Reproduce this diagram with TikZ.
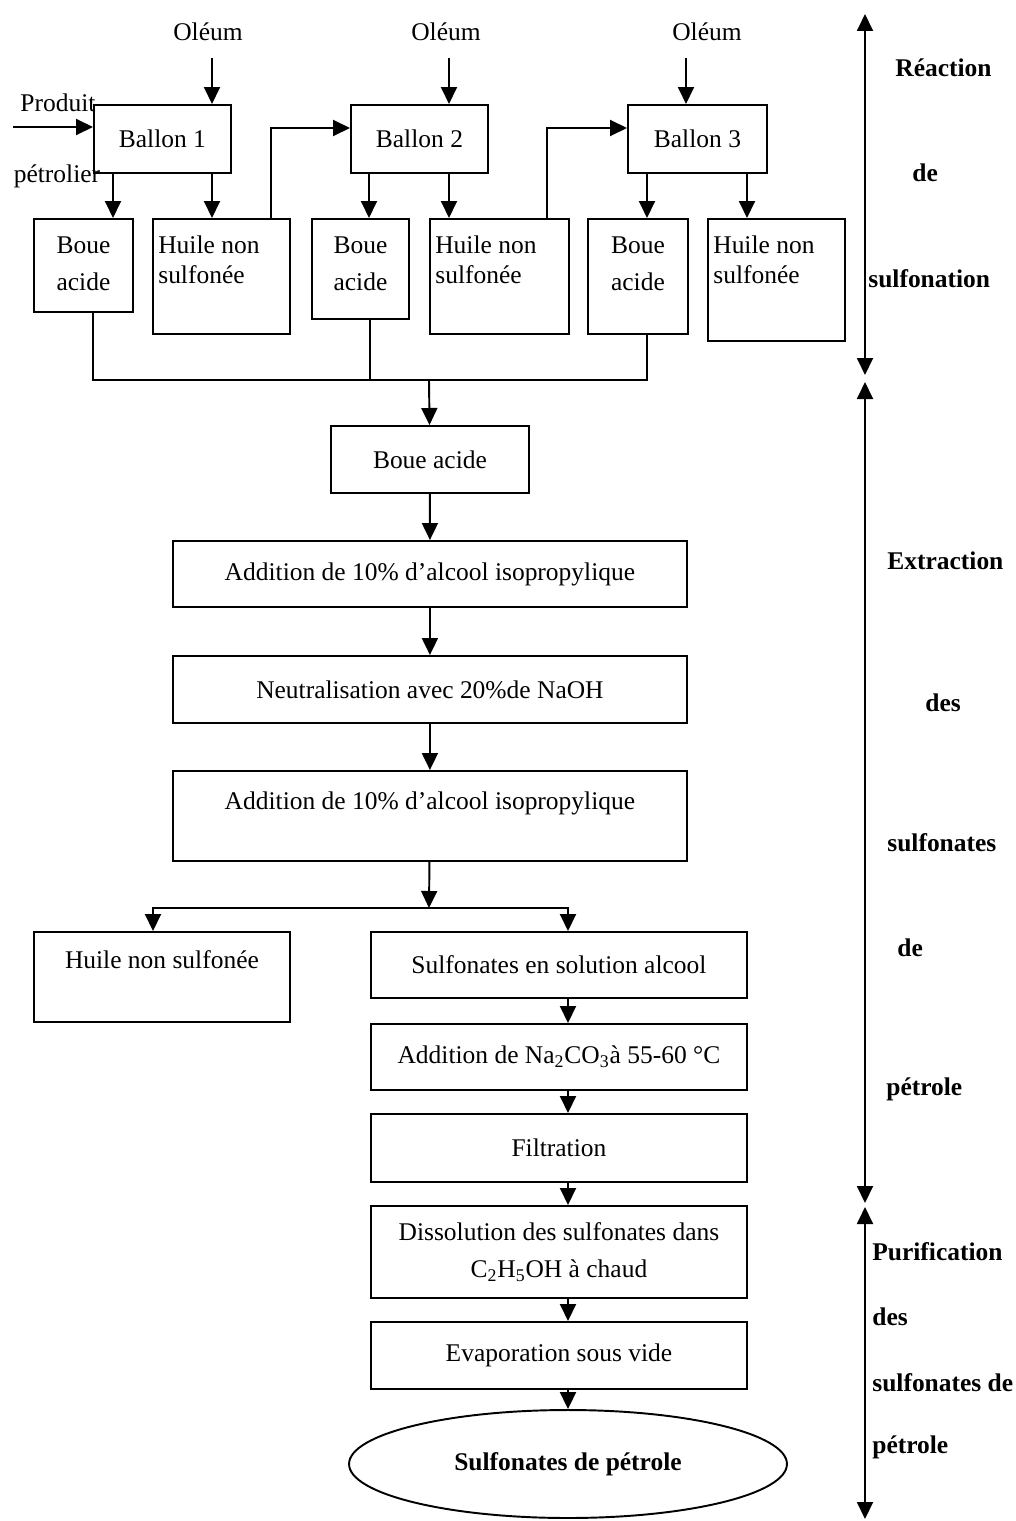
\documentclass[tikz,border=0pt]{standalone}
\usepackage{fontspec}
\setmainfont{Liberation Serif}
\usetikzlibrary{arrows.meta,shapes.geometric,positioning}
\newcommand{\figfont}{\fontsize{14.5}{17.5}\selectfont}
\tikzset{box/.style={draw,line width=1.1pt,anchor=north west,inner sep=2pt,align=center},
  lbl/.style={inner sep=0pt,align=center},
  arr/.style={-{Triangle[length=0.34cm,width=0.32cm]},line width=1.1pt},
  ln/.style={line width=1.1pt},
  span/.style={{Triangle[length=0.34cm,width=0.32cm]}-{Triangle[length=0.34cm,width=0.32cm]},line width=1.1pt},
  side/.style={font=\figfont\bfseries,inner sep=0pt,anchor=west}}

\begin{document}
\begin{tikzpicture}[x=0.02cm,y=-0.02cm,font=\figfont]
\useasboundingbox (0,0) rectangle (1016,1521);

% sulfonation in three flasks
\node[box,minimum width=2.74cm,minimum height=1.36cm] (b1) at (93,104) {Ballon 1};
\node[box,minimum width=2.74cm,minimum height=1.36cm] (b2) at (350,104) {Ballon 2};
\node[box,minimum width=2.78cm,minimum height=1.36cm] (b3) at (627,104) {Ballon 3};
\node (ol1) at (208,32) {Oléum};
\node (ol2) at (446,32) {Oléum};
\node (ol3) at (707,32) {Oléum};
\node[inner sep=0pt] (prod) at (58,103) {Produit};
\node[inner sep=0pt] (petr) at (57,176) {pétrolier};

\node[box,minimum width=1.98cm,minimum height=1.86cm,
  label={[lbl,name=tbo1,anchor=north,yshift=-0.36cm]north:Boue\\[4pt]acide}] (bo1) at (33,218) {};
\node[box,minimum width=2.74cm,minimum height=2.3cm,
  label={[lbl,name=thu1,anchor=north west,align=left,xshift=0.12cm,yshift=-0.34cm]north west:Huile non\\sulfonée}] (hu1) at (152,218) {};
\node[box,minimum width=1.94cm,minimum height=2.0cm,
  label={[lbl,name=tbo2,anchor=north,yshift=-0.36cm]north:Boue\\[4pt]acide}] (bo2) at (311,218) {};
\node[box,minimum width=2.78cm,minimum height=2.3cm,
  label={[lbl,name=thu2,anchor=north west,align=left,xshift=0.12cm,yshift=-0.34cm]north west:Huile non\\sulfonée}] (hu2) at (429,218) {};
\node[box,minimum width=2.0cm,minimum height=2.3cm,
  label={[lbl,name=tbo3,anchor=north,yshift=-0.36cm]north:Boue\\[4pt]acide}] (bo3) at (587,218) {};
\node[box,minimum width=2.74cm,minimum height=2.44cm,
  label={[lbl,name=thu3,anchor=north west,align=left,xshift=0.12cm,yshift=-0.34cm]north west:Huile non\\sulfonée}] (hu3) at (707,218) {};

\coordinate (f1) at (212,58);
\coordinate (f2) at (449,58);
\coordinate (f3) at (686,58);
\draw[arr] (f1) -- (f1 |- b1.north);
\draw[arr] (f2) -- (f2 |- b2.north);
\draw[arr] (f3) -- (f3 |- b3.north);
\coordinate (pin) at (13,127);
\draw[arr] (pin) -- (pin -| b1.west);

\draw[arr] (b1.south -| 113,0) -- (bo1.north -| 113,0);
\draw[arr] (b1.south -| 212,0) -- (hu1.north -| 212,0);
\draw[arr] (b2.south -| 369,0) -- (bo2.north -| 369,0);
\draw[arr] (b2.south -| 449,0) -- (hu2.north -| 449,0);
\draw[arr] (b3.south -| 647,0) -- (bo3.north -| 647,0);
\draw[arr] (b3.south -| 747,0) -- (hu3.north -| 747,0);
% unreacted oil goes on to the next flask
\draw[arr] (hu1.north -| 271,0) |- (b2.west |- 0,128);
\draw[arr] (hu2.north -| 547,0) |- (b3.west |- 0,128);

% acid sludge collected
\coordinate (colL) at (93,380);
\coordinate (colR) at (647,380);
\coordinate (col) at (429,380);
\draw[ln] (bo1.south -| colL) -- (colL) -- (colR) -- (bo3.south -| colR);
\draw[ln] (bo2.south -| 370,0) |- (col);

% extraction
\node[box,minimum width=3.96cm,minimum height=1.34cm] (ba) at (330,425) {Boue acide};
\node[box,minimum width=10.28cm,minimum height=1.32cm] (ad1) at (172,540) {Addition de 10\% d’alcool isopropylique};
\node[box,minimum width=10.28cm,minimum height=1.34cm] (neu) at (172,655) {Neutralisation avec 20\%de NaOH};
\node[box,minimum width=10.28cm,minimum height=1.8cm,
  label={[lbl,name=tad2,anchor=north,yshift=-0.42cm]north:Addition de 10\% d’alcool isopropylique}] (ad2) at (172,770) {};
\draw[arr] (col) -- (ba);
\draw[arr] (ba) -- (ad1);
\draw[arr] (ad1) -- (neu);
\draw[arr] (neu) -- (ad2);

\node[box,minimum width=5.12cm,minimum height=1.8cm,
  label={[lbl,name=thub,anchor=north,yshift=-0.38cm]north:Huile non sulfonée}] (hub) at (33,931) {};
\node[box,minimum width=7.52cm,minimum height=1.32cm] (sol) at (370,931) {Sulfonates en solution alcool};
\node[box,minimum width=7.52cm,minimum height=1.32cm] (na) at (370,1023) {Addition de Na\textsubscript{2}CO\textsubscript{3}à 55-60 °C};
\node[box,minimum width=7.52cm,minimum height=1.36cm] (fil) at (370,1113) {Filtration};

\coordinate (split) at (429,908);
\draw[arr] (ad2) -- (split);
\draw[arr] (split) -| (hub.north -| 153,0);
\draw[arr] (split) -| (sol.north -| 568,0);

% purification
\node[box,minimum width=7.52cm,minimum height=1.84cm] (dis) at (370,1205) {Dissolution des sulfonates dans\\[3.5pt]C\textsubscript{2}H\textsubscript{5}OH à chaud};
\node[box,minimum width=7.52cm,minimum height=1.34cm] (eva) at (370,1321) {Evaporation sous vide};
\node[draw,ellipse,line width=1.1pt,minimum width=8.76cm,minimum height=2.16cm,font=\figfont\bfseries] (fin) at (568,1464) {Sulfonates de pétrole};

\foreach \a/\b in {sol/na,na/fil,fil/dis,dis/eva,eva/fin}
  \draw[arr] (\a.south -| 568,0) -- (\b.north -| 568,0);

% stages on the right
\coordinate (r1t) at (865,14);
\coordinate (r1b) at (865,375);
\coordinate (r2t) at (865,382);
\coordinate (r2b) at (865,1203);
\coordinate (r3t) at (865,1207);
\coordinate (r3b) at (865,1519);
\draw[span] (r1t) -- (r1b);
\draw[span] (r2t) -- (r2b);
\draw[span] (r3t) -- (r3b);

\node[side] (s1) at (895,68) {Réaction};
\node[side] (s2) at (912,173) {de};
\node[side] (s3) at (868,279) {sulfonation};
\node[side] (s4) at (887,561) {Extraction};
\node[side] (s5) at (925,703) {des};
\node[side] (s6) at (887,843) {sulfonates};
\node[side] (s7) at (897,948) {de};
\node[side] (s8) at (886,1089) {pétrole};
\node[side] (s9) at (872,1252) {Purification};
\node[side] (s10) at (872,1317) {des};
\node[side] (s11) at (872,1383) {sulfonates de};
\node[side] (s12) at (872,1447) {pétrole};
\end{tikzpicture}
\end{document}
